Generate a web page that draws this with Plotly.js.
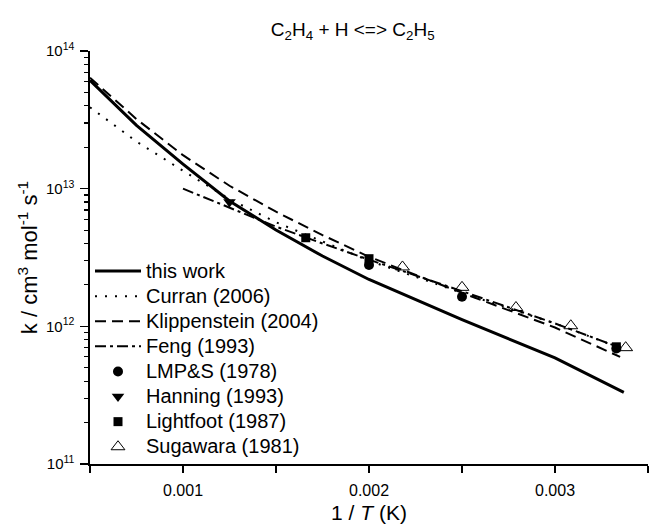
<!DOCTYPE html>
<html>
<head>
<meta charset="utf-8">
<script src="https://cdn.plot.ly/plotly-3.0.1.min.js"></script>
<style>
html,body{margin:0;padding:0;background:#fff;}
#chart{width:649px;height:525px;}
#chart .legendtext{font-size:20px !important;}
#chart .legend, #chart .legend *{clip-path:none !important;}
</style>
</head>
<body>
<div id="chart"></div>
<script>
// ---- data (x = 1/T in 1/K, k in cm3 mol-1 s-1) ----
const thisWorkX = [0.0005, 0.00075, 0.001, 0.00125, 0.0015, 0.00175, 0.002, 0.0025, 0.003, 0.00337];
const thisWorkK = [6.12e13, 2.88e13, 1.51e13, 8.13e12, 5.01e12, 3.24e12, 2.19e12, 1.12e12, 5.89e11, 3.31e11];

const curranX = [0.0005, 0.00075, 0.001, 0.00125, 0.0015, 0.002, 0.0025, 0.003, 0.00337];
const curranK = [3.9e13, 2.2e13, 1.35e13, 8.4e12, 5.7e12, 3.0e12, 1.75e12, 1.05e12, 6.8e11];

const klippX = [0.0005, 0.00075, 0.001, 0.00125, 0.0015, 0.00175, 0.002, 0.0025, 0.003, 0.00335];
const klippK = [6.4e13, 3.2e13, 1.75e13, 1.05e13, 6.8e12, 4.6e12, 3.2e12, 1.75e12, 9.8e11, 6.0e11];

const fengX = [0.001, 0.00125, 0.0015, 0.00175, 0.002, 0.0025, 0.003, 0.00335];
const fengK = [1.0e13, 7.3e12, 5.3e12, 4.0e12, 3.05e12, 1.8e12, 1.05e12, 7.0e11];

const lmpsX = [0.002, 0.0025, 0.00333];
const lmpsK = [2.79e12, 1.64e12, 6.9e11];

const hanningX = [0.00125];
const hanningK = [8.0e12];

const lightfootX = [0.00166, 0.002, 0.00333];
const lightfootK = [4.4e12, 3.1e12, 7.1e11];

const sugawaraX = [0.00218, 0.0025, 0.00279, 0.003085, 0.00338];
const sugawaraK = [2.7e12, 1.92e12, 1.37e12, 1.01e12, 7.0e11];

const xTickVals = [0.0005, 0.001, 0.0015, 0.002, 0.0025, 0.003, 0.0035];
const xTickText = ['', '0.001', '', '0.002', '', '0.003', ''];
const yTickVals = [1e11, 1e12, 1e13, 1e14];
const yTickText = ['10<sup>11</sup>', '10<sup>12</sup>', '10<sup>13</sup>', '10<sup>14</sup>'];
const yMinorVals = [];
[1e11, 1e12, 1e13].forEach(d => { for (let m = 2; m <= 9; m++) yMinorVals.push(m * d); });

const FONT = 'Liberation Sans, Arial, sans-serif';

const traces = [
  {x: thisWorkX, y: thisWorkK, name: 'this work', mode: 'lines', line: {color: '#000', width: 3}},
  {x: curranX, y: curranK, name: 'Curran (2006)', mode: 'lines', line: {color: '#000', width: 2, dash: '2px,8px'}},
  {x: klippX, y: klippK, name: 'Klippenstein (2004)', mode: 'lines', line: {color: '#000', width: 2, dash: '11px,6px'}},
  {x: fengX, y: fengK, name: 'Feng (1993)', mode: 'lines', line: {color: '#000', width: 2, dash: '11px,4px,3px,4px'}},
  {x: lmpsX, y: lmpsK, name: 'LMP&amp;S (1978)', mode: 'markers', marker: {symbol: 'circle', size: 10, color: '#000'}},
  {x: hanningX, y: hanningK, name: 'Hanning (1993)', mode: 'markers', marker: {symbol: 'triangle-down', size: 11, color: '#000'}},
  {x: lightfootX, y: lightfootK, name: 'Lightfoot (1987)', mode: 'markers', marker: {symbol: 'square', size: 9, color: '#000'}},
  {x: sugawaraX, y: sugawaraK, name: 'Sugawara (1981)', mode: 'markers', marker: {symbol: 'triangle-up-open', size: 12, color: '#000', line: {width: 1, color: '#000'}}}
];

const commonX = {range: [0.0005, 0.0035], tickmode: 'array', tickvals: xTickVals, showgrid: false, zeroline: false,
  showline: true, linecolor: '#000', linewidth: 1.6, tickcolor: '#000', tickwidth: 1.5, ticklen: 7};
const commonY = {type: 'log', range: [11, 14], tickmode: 'array', tickvals: yTickVals, showgrid: false, zeroline: false,
  showline: true, linecolor: '#000', linewidth: 1.6, tickcolor: '#000', tickwidth: 1.5, ticklen: 8,
  minor: {tickmode: 'array', tickvals: yMinorVals, ticks: 'outside', ticklen: 4, tickcolor: '#000', tickwidth: 1.2, showgrid: false}};

const layout = {
  width: 649, height: 525,
  margin: {l: 90, r: 1, t: 51, b: 61},
  paper_bgcolor: '#fff', plot_bgcolor: '#fff',
  font: {family: FONT, color: '#000', size: 14},
  showlegend: true,
  title: {text: 'C<sub>2</sub>H<sub>4</sub> + H &lt;=&gt; C<sub>2</sub>H<sub>5</sub>', x: 0.5435, xanchor: 'center', y: 0.945, yanchor: 'middle', font: {size: 19, family: FONT}},
  xaxis: Object.assign({}, commonX, {ticktext: xTickText, ticks: 'outside', side: 'bottom', ticklabelstandoff: 4,
    tickfont: {size: 16}, title: {text: '1 / <i>T</i> (K)', font: {size: 21}, standoff: 7}}),
  xaxis2: Object.assign({}, commonX, {ticktext: xTickVals.map(() => ''), ticks: 'inside', side: 'top', overlaying: 'x', anchor: 'y', matches: 'x'}),
  yaxis: Object.assign({}, commonY, {ticktext: yTickText, ticks: 'outside', tickfont: {size: 15}, ticklabelstandoff: 3,
    title: {text: 'k / cm<sup>3</sup> mol<sup>-1</sup> s<sup>-1</sup>', font: {size: 22}, standoff: 2}}),
  yaxis2: Object.assign({}, commonY, {ticktext: yTickVals.map(() => ''), ticks: 'inside', side: 'right', overlaying: 'y', anchor: 'x',
    minor: {tickmode: 'array', tickvals: yMinorVals, ticks: 'inside', ticklen: 4, tickcolor: '#000', tickwidth: 1.2, showgrid: false}}),
  legend: {x: 0.0, xanchor: 'left', y: 0.5097, yanchor: 'top', bgcolor: 'rgba(0,0,0,0)', borderwidth: 0,
    font: {size: 17, family: FONT}, itemwidth: 46, traceorder: 'normal', itemclick: false}
};

Plotly.newPlot('chart', traces, layout, {staticPlot: true, displayModeBar: false});
</script>
</body>
</html>
